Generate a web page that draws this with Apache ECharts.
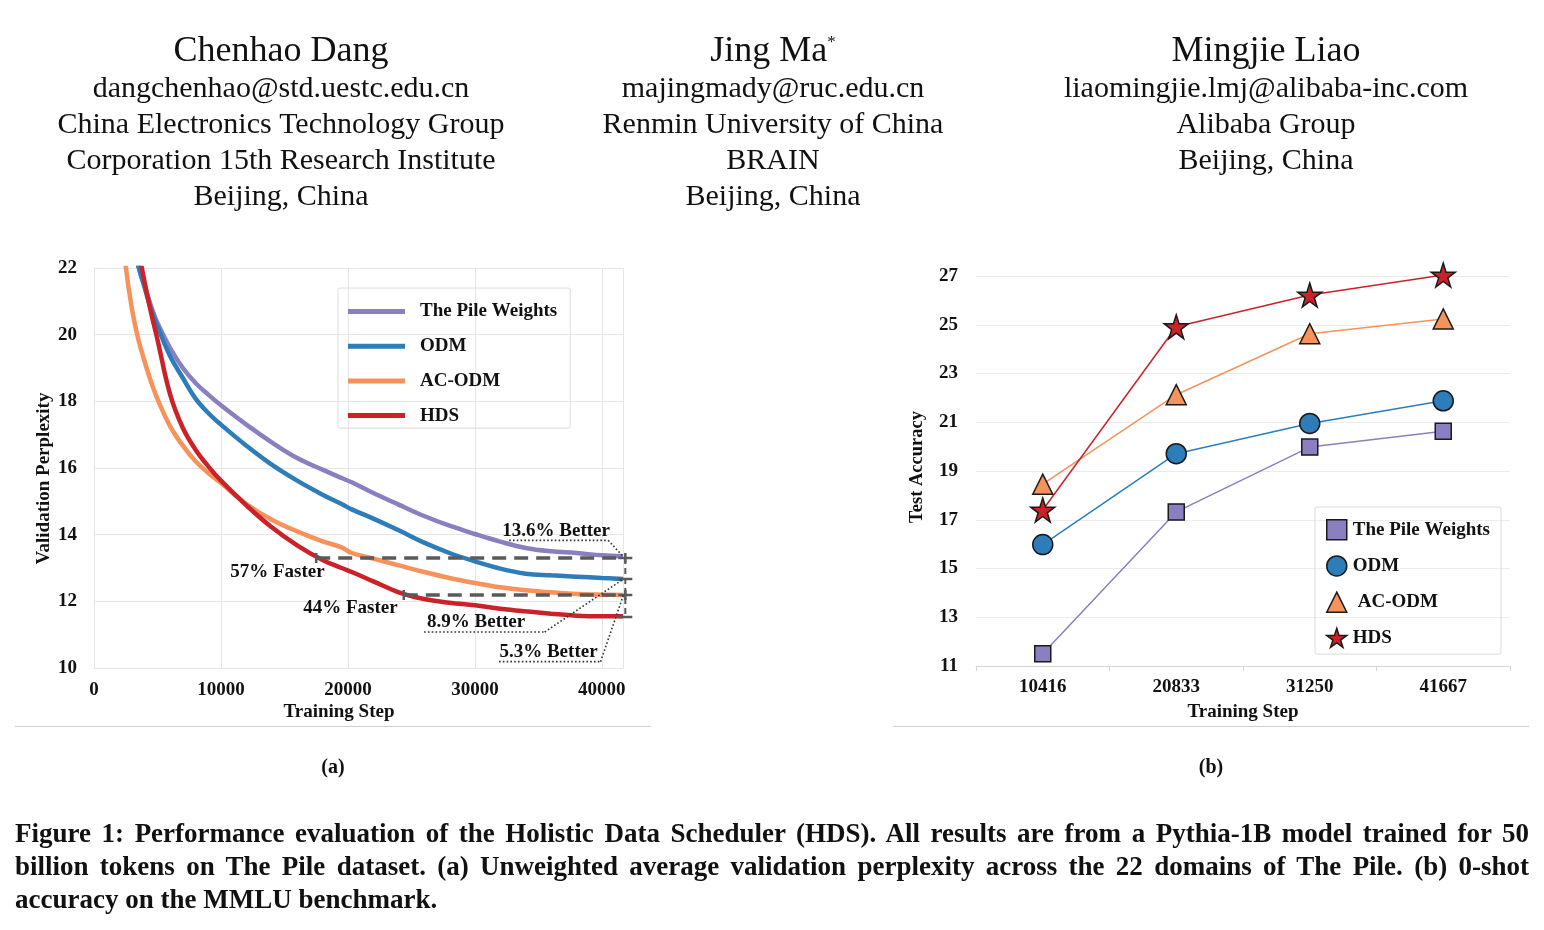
<!DOCTYPE html>
<html>
<head>
<meta charset="utf-8">
<script src="https://cdn.jsdelivr.net/npm/echarts@6/dist/echarts.min.js"></script>
<style>
  html, body { margin: 0; padding: 0; background: #fff; }
  #chart { position: absolute; left: 0; top: 0; width: 1544px; height: 930px; }
  #caption { position: absolute; left: 15px; top: 817px; width: 1514px; font-family: 'Liberation Serif', serif;
    font-weight: bold; font-size: 27px; line-height: 33px; color: #111; }
  #caption div { white-space: nowrap; }
</style>
</head>
<body>
<div id="chart"></div>
<div id="caption">
  <div class="fit"><span>Figure 1: Performance evaluation of the Holistic Data Scheduler (HDS). All results are from a Pythia-1B model trained for 50</span></div>
  <div class="fit"><span>billion tokens on The Pile dataset. (a) Unweighted average validation perplexity across the 22 domains of The Pile. (b) 0-shot</span></div>
  <div><span>accuracy on the MMLU benchmark.</span></div>
</div>
<script>
// (a) validation perplexity
const steps = [2000, 2500, 3000, 3500, 4000, 4500, 5000, 6000, 7000, 8000, 9000, 10000, 12000, 14000, 16000, 18000,
  19500, 20300, 22000, 24000, 26000, 28000, 30000, 32000, 34000, 36000, 38000, 40000, 41667]
const pilePpl = [26.0, 24.5, 23.0, 22.05, 21.45, 20.85, 20.35, 19.6, 19.0, 18.55, 18.2, 17.88, 17.3, 16.77, 16.3, 15.95,
  15.7, 15.57, 15.25, 14.9, 14.56, 14.27, 14.02, 13.79, 13.6, 13.5, 13.45, 13.38, 13.35]
const odmPpl = [26.0, 24.5, 23.0, 22.05, 21.4, 20.75, 20.25, 19.35, 18.7, 18.08, 17.65, 17.3, 16.67, 16.1, 15.62, 15.2,
  14.92, 14.76, 14.48, 14.13, 13.76, 13.45, 13.2, 12.98, 12.83, 12.78, 12.74, 12.7, 12.67]
const acodmPpl = [24.0, 22.05, 20.75, 19.85, 19.18, 18.58, 18.07, 17.25, 16.67, 16.2, 15.85, 15.55, 14.92, 14.45, 14.1, 13.8,
  13.62, 13.45, 13.28, 13.08, 12.88, 12.7, 12.55, 12.42, 12.33, 12.27, 12.22, 12.2, 12.19]
const hdsPpl = [28.0, 26.0, 24.2, 22.6, 21.55, 20.65, 19.85, 18.2, 17.2, 16.55, 16.05, 15.62, 14.88, 14.22, 13.68, 13.24,
  13.0, 12.88, 12.6, 12.27, 12.07, 11.96, 11.88, 11.78, 11.7, 11.63, 11.57, 11.55, 11.55]

// (b) MMLU 0-shot accuracy
const mmluSteps = ['10416', '20833', '31250', '41667']
const pileAcc = [11.5, 17.32, 19.98, 20.63]
const odmAcc = [15.98, 19.71, 20.95, 21.88]
const acodmAcc = [18.46, 22.13, 24.63, 25.24]
const hdsAcc = [17.4, 24.92, 26.22, 27.04]

const methods = ['The Pile Weights', 'ODM', 'AC-ODM', 'HDS']

// annotation segments in (a): [x1, y1, x2, y2, kind]  kind 0 dashed, 1 cap, 2 dotted, 3 thin dashed
const gapSegments = [
  [17500, 13.3, 41850, 13.3, 0],
  [24400, 12.19, 41850, 12.19, 0],
  [41850, 13.3, 41850, 11.53, 3],
  [17500, 13.15, 17500, 13.45, 1],
  [41850, 13.15, 41850, 13.45, 1],
  [24400, 12.04, 24400, 12.34, 1],
  [41850, 12.04, 41850, 12.34, 1],
  [41300, 13.3, 42400, 13.3, 1],
  [41300, 12.67, 42400, 12.67, 1],
  [41300, 12.19, 42400, 12.19, 1],
  [41300, 11.53, 42400, 11.53, 1],
  [32700, 13.83, 40500, 13.83, 2],
  [40500, 13.83, 41650, 13.36, 2],
  [26000, 11.08, 35500, 11.08, 2],
  [35500, 11.08, 41700, 12.67, 2],
  [31900, 10.19, 39900, 10.19, 2],
  [39900, 10.19, 41700, 12.19, 2],
]
const gapNotes = [
  ['13.6% Better', 36400, 14.12],
  ['8.9% Better', 30100, 11.39],
  ['5.3% Better', 35800, 10.47],
  ['57% Faster', 14450, 12.87],
  ['44% Faster', 20200, 11.79],
]

const serif = 'Liberation Serif'
const ink = '#111'
const grey = '#e6e6e6'
const colors = ['#8a7fc1', '#2d7dbb', '#f6925a', '#cb2229']
const symbols = ['rect', 'circle', 'triangle',
  'path://M50 0L61.23 34.55L97.55 34.55L68.17 55.9L79.39 90.45L50 69.1L20.61 90.45L31.83 55.9L2.45 34.55L38.77 34.55Z']
const symbolSizes = [16, 20, 20, 24]

const boldText = { fontFamily: serif, fontWeight: 'bold', fontSize: 19, color: ink }

const segStyles = [
  { stroke: '#5a5a5a', lineWidth: 3.5, lineDash: [14, 8] },
  { stroke: '#5a5a5a', lineWidth: 2.5 },
  { stroke: '#333', lineWidth: 1.6, lineDash: [1.6, 2.2] },
  { stroke: '#5a5a5a', lineWidth: 2, lineDash: [6, 4] },
]

const pplSeries = [pilePpl, odmPpl, acodmPpl, hdsPpl].map((ys, i) => ({
  name: methods[i],
  type: 'line',
  xAxisIndex: 0,
  yAxisIndex: 0,
  data: steps.map((s, j) => [s, ys[j]]),
  symbol: 'none',
  smooth: 0.4,
  color: colors[i],
  lineStyle: { width: 4.5, color: colors[i] },
  z: 2,
}))

const accSeries = [pileAcc, odmAcc, acodmAcc, hdsAcc].map((ys, i) => ({
  name: methods[i],
  type: 'line',
  xAxisIndex: 1,
  yAxisIndex: 1,
  data: ys,
  symbol: symbols[i],
  symbolSize: symbolSizes[i],
  showAllSymbol: true,
  color: colors[i],
  lineStyle: { width: 1.5, color: colors[i] },
  itemStyle: { color: colors[i], borderColor: '#1a1a1a', borderWidth: 1.5 },
  clip: false,
  z: 3,
}))

// header of the paper page
const cols = [281, 773, 1266]
const authorLines = [
  ['Chenhao Dang', 'dangchenhao@std.uestc.edu.cn', 'China Electronics Technology Group', 'Corporation 15th Research Institute', 'Beijing, China'],
  ['Jing Ma{s|*}', 'majingmady@ruc.edu.cn', 'Renmin University of China', 'BRAIN', 'Beijing, China'],
  ['Mingjie Liao', 'liaomingjie.lmj@alibaba-inc.com', 'Alibaba Group', 'Beijing, China'],
]
const headerGraphics = []
authorLines.forEach((lines, c) => {
  lines.forEach((t, r) => {
    headerGraphics.push({
      type: 'text',
      x: cols[c],
      y: r === 0 ? 52 : 53 + r * 36,
      silent: true,
      style: {
        text: t,
        fontFamily: serif,
        fontSize: r === 0 ? 36 : 30,
        fill: ink,
        align: 'center',
        verticalAlign: 'middle',
        rich: { s: { fontFamily: serif, fontSize: 17, verticalAlign: 'top', fill: ink } },
      },
    })
  })
})

const chart = echarts.init(document.getElementById('chart'))
chart.setOption({
  animation: false,
  backgroundColor: '#fff',
  textStyle: { fontFamily: serif },
  grid: [
    { left: 94, top: 268, width: 529, height: 400 },
    { left: 976, top: 276, width: 534, height: 390 },
  ],
  xAxis: [
    {
      gridIndex: 0, type: 'value', min: 0, max: 41667, interval: 10000,
      axisLine: { show: true, lineStyle: { color: grey, width: 1 } },
      axisTick: { show: false },
      splitLine: { show: true, lineStyle: { color: grey } },
      axisLabel: Object.assign({ margin: 13, showMaxLabel: false, formatter: v => String(v) }, boldText),
      name: 'Training Step', nameLocation: 'middle', nameGap: 35,
      nameTextStyle: Object.assign({ padding: [0, 39, 0, 0] }, boldText),
    },
    {
      gridIndex: 1, type: 'category', data: mmluSteps, boundaryGap: true,
      axisLine: { show: true, lineStyle: { color: '#d8d8d8' } },
      axisTick: { show: true, length: 5, lineStyle: { color: '#d8d8d8' } },
      splitLine: { show: false },
      axisLabel: Object.assign({ margin: 12 }, boldText),
      name: 'Training Step', nameLocation: 'middle', nameGap: 37,
      nameTextStyle: boldText,
    },
  ],
  yAxis: [
    {
      gridIndex: 0, type: 'value', min: 10, max: 22, interval: 2,
      axisLine: { show: true, lineStyle: { color: grey } },
      axisTick: { show: false },
      splitLine: { show: true, lineStyle: { color: grey } },
      axisLabel: Object.assign({ margin: 17 }, boldText),
      name: 'Validation Perplexity', nameLocation: 'middle', nameGap: 40, nameRotate: 90,
      nameTextStyle: Object.assign({ padding: [0, 21, 0, 0] }, boldText),
    },
    {
      gridIndex: 1, type: 'value', min: 11, max: 27, interval: 2,
      axisLine: { show: false },
      axisTick: { show: false },
      splitLine: { show: true, lineStyle: { color: '#ececec' } },
      axisLabel: Object.assign({ margin: 18 }, boldText),
      name: 'Test Accuracy', nameLocation: 'middle', nameGap: 49, nameRotate: 90,
      nameTextStyle: Object.assign({}, boldText, { fontSize: 18.5, padding: [0, 0, 0, 8] }),
    },
  ],
  legend: [
    {
      data: methods, orient: 'vertical', left: 338, top: 288,
      icon: 'rect', itemWidth: 57, itemHeight: 5, itemGap: 15.7,
      padding: [14, 13, 3, 10],
      borderColor: '#dcdcdc', borderWidth: 1, borderRadius: 2,
      itemStyle: { borderWidth: 0 },
      textStyle: Object.assign({ padding: [0, 0, 0, 10] }, boldText),
      selectedMode: false,
    },
    {
      data: methods.map((m, i) => ({
        name: m, icon: symbols[i],
        textStyle: i === 2 ? { padding: [0, 0, 0, 6] } : undefined,
      })),
      orient: 'vertical', left: 1315, top: 507,
      itemWidth: 20, itemHeight: 20, itemGap: 14.7,
      padding: [12, 11, 6, 11],
      borderColor: '#dcdcdc', borderWidth: 1, borderRadius: 2,
      itemStyle: { borderColor: '#1a1a1a', borderWidth: 1.5 },
      textStyle: Object.assign({ padding: [0, 0, 0, 1] }, boldText),
      selectedMode: false,
    },
  ],
  series: pplSeries.concat(accSeries, [
    {
      type: 'custom',
      xAxisIndex: 0,
      yAxisIndex: 0,
      data: gapSegments,
      encode: { x: [0, 2], y: [1, 3] },
      clip: false,
      silent: true,
      z: 5,
      renderItem: function (params, api) {
        const a = api.coord([api.value(0), api.value(1)])
        const b = api.coord([api.value(2), api.value(3)])
        return {
          type: 'line',
          shape: { x1: a[0], y1: a[1], x2: b[0], y2: b[1] },
          style: Object.assign({ fill: null }, segStyles[api.value(4)]),
        }
      },
    },
    {
      type: 'custom',
      xAxisIndex: 0,
      yAxisIndex: 0,
      data: gapNotes.map(n => [n[1], n[2]]),
      encode: { x: 0, y: 1 },
      clip: false,
      silent: true,
      z: 6,
      renderItem: function (params, api) {
        const p = api.coord([api.value(0), api.value(1)])
        return {
          type: 'text',
          x: p[0],
          y: p[1],
          style: {
            text: gapNotes[params.dataIndex][0],
            fontFamily: serif, fontWeight: 'bold', fontSize: 19, fill: ink,
            align: 'center', verticalAlign: 'middle',
          },
        }
      },
    },
  ]),
  graphic: headerGraphics.concat([
    { type: 'line', silent: true, shape: { x1: 15, y1: 726.5, x2: 651, y2: 726.5 }, style: { stroke: '#cfcfcf', lineWidth: 1 } },
    { type: 'line', silent: true, shape: { x1: 893, y1: 726.5, x2: 1529, y2: 726.5 }, style: { stroke: '#cfcfcf', lineWidth: 1 } },
    { type: 'text', x: 333, y: 768, silent: true, style: { text: '(a)', fontFamily: serif, fontWeight: 'bold', fontSize: 20, fill: ink, align: 'center', verticalAlign: 'middle' } },
    { type: 'text', x: 1211, y: 768, silent: true, style: { text: '(b)', fontFamily: serif, fontWeight: 'bold', fontSize: 20, fill: ink, align: 'center', verticalAlign: 'middle' } },
  ]),
})

// stretch the caption lines to the full column width, like the justified paper text
document.querySelectorAll('#caption .fit').forEach(function (el) {
  const span = el.querySelector('span')
  const w = span.getBoundingClientRect().width
  const spaces = (span.textContent.match(/ /g) || []).length
  el.style.wordSpacing = ((1514 - w) / spaces) + 'px'
})
</script>
</body>
</html>
